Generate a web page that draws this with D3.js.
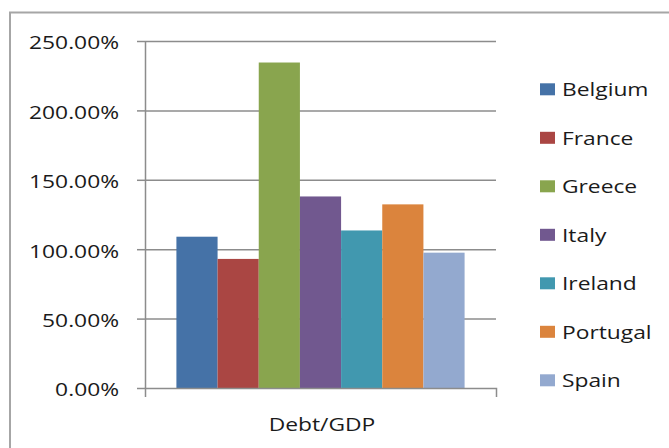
<!DOCTYPE html>
<html>
<head>
<meta charset="utf-8">
<script src="https://cdn.jsdelivr.net/npm/d3@7"></script>
<style>
  html, body { margin: 0; padding: 0; background: #fff; }
  svg { display: block; }
  text { font-family: "Open Sans", "DejaVu Sans", sans-serif; fill: #1a1a1a; }
</style>
</head>
<body>
<svg id="chart" width="669" height="448"></svg>
<script>
const categories = ["Debt/GDP"];
const countries = ["Belgium", "France", "Greece", "Italy", "Ireland", "Portugal", "Spain"];
const values = [1.09, 0.93, 2.345, 1.38, 1.135, 1.323, 0.975];
const colors = ["#4572A7", "#AA4643", "#89A54E", "#71588F", "#4198AF", "#DB843D", "#93A9CF"];
const yTicks = [0, 0.5, 1.0, 1.5, 2.0, 2.5];

const W = 669, H = 448;
const plot = { left: 145, right: 496, top: 41, bottom: 388 };
const stretch = 1.2;
const fontSize = 19;
const lineColor = "#8c8c8c";

const svg = d3.select("#chart");

// outer chart border (right/bottom cut off like the reference)
svg.append("rect")
  .attr("x", 10).attr("y", 12.5)
  .attr("width", W + 20).attr("height", H + 20)
  .attr("fill", "#fff")
  .attr("stroke", "#a6a6a6").attr("stroke-width", 2);

const y = d3.scaleLinear().domain([0, 2.5]).range([plot.bottom, plot.top]);
const x0 = d3.scaleBand().domain(categories).range([plot.left, plot.right])
  .paddingInner(0).paddingOuter(0.109);
const x1 = d3.scaleBand().domain(countries).range([0, x0.bandwidth()]).padding(0);
const color = d3.scaleOrdinal().domain(countries).range(colors);

// gridlines
const grid = svg.append("g")
  .attr("transform", `translate(${plot.left},0)`)
  .call(d3.axisLeft(y).tickValues(yTicks.slice(1)).tickSize(-(plot.right - plot.left)).tickFormat(""));
grid.select(".domain").remove();
grid.selectAll("line").attr("stroke", lineColor).attr("stroke-width", 1.5);

// y axis with outside ticks and labels
const yAxis = svg.append("g")
  .attr("transform", `translate(${plot.left},0)`)
  .call(d3.axisLeft(y).tickValues(yTicks).tickSize(8).tickSizeOuter(0)
    .tickFormat(d => d3.format(".2%")(d)));
yAxis.select(".domain").attr("stroke", lineColor).attr("stroke-width", 1.5);
yAxis.selectAll(".tick line").attr("stroke", lineColor).attr("stroke-width", 1.5);
yAxis.selectAll(".tick text")
  .attr("font-size", fontSize)
  .attr("x", -26 / stretch)
  .attr("dy", "0.42em")
  .attr("transform", `scale(${stretch},1)`)
  .style("font-family", '"Open Sans", sans-serif')
  .attr("fill", "#1a1a1a");

// bars
const groups = svg.append("g").selectAll("g")
  .data(categories).join("g")
  .attr("transform", d => `translate(${x0(d)},0)`);
groups.selectAll("rect")
  .data(countries.map((c, i) => ({ c, v: values[i] })))
  .join("rect")
  .attr("x", d => x1(d.c))
  .attr("y", d => y(d.v))
  .attr("width", x1.bandwidth())
  .attr("height", d => y(0) - y(d.v))
  .attr("fill", d => color(d.c));

// x axis
const xAxis = svg.append("g")
  .attr("transform", `translate(0,${plot.bottom})`)
  .call(d3.axisBottom(x0).tickSize(0).tickSizeOuter(9).tickFormat(""));
xAxis.select(".domain").attr("stroke", lineColor).attr("stroke-width", 1.5).attr("fill", "none");

svg.append("g").selectAll("text")
  .data(categories).join("text")
  .attr("transform", d => `translate(${x0(d) + x0.bandwidth() / 2 + 1.5},431) scale(${stretch},1)`)
  .attr("text-anchor", "middle")
  .attr("font-size", fontSize)
  .text(d => d);

// legend
const legend = svg.append("g").selectAll("g")
  .data(countries).join("g")
  .attr("transform", (d, i) => `translate(540,${89.3 + i * 48.5})`);
legend.append("rect")
  .attr("x", 0).attr("y", -6)
  .attr("width", 15).attr("height", 12)
  .attr("fill", d => color(d));
legend.append("text")
  .attr("transform", `translate(22,0) scale(${stretch},1)`)
  .attr("dy", "0.36em")
  .attr("font-size", fontSize)
  .text(d => d);
</script>
</body>
</html>
